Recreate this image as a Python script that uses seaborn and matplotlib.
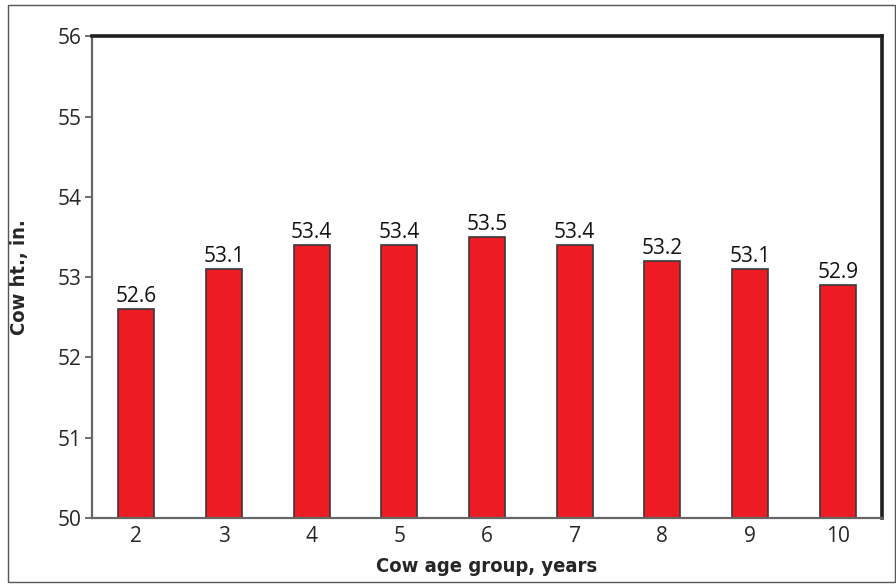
import matplotlib
matplotlib.use("Agg")
import matplotlib.pyplot as plt
import numpy as np
import pandas as pd
import seaborn as sns
from matplotlib.patches import Rectangle

age_groups = ["2", "3", "4", "5", "6", "7", "8", "9", "10"]
cow_height = [52.6, 53.1, 53.4, 53.4, 53.5, 53.4, 53.2, 53.1, 52.9]
y_ticks = [50, 51, 52, 53, 54, 55, 56]

df = pd.DataFrame({"age": age_groups, "height": cow_height})

sns.set_style("white")
plt.rcParams["font.family"] = ["Open Sans", "DejaVu Sans"]

fig = plt.figure(figsize=(8.96, 5.84), dpi=100)
ax = fig.add_axes([0.103, 0.113, 0.881, 0.825])

sns.barplot(data=df, x="age", y="height", color="#ED1C24", width=0.41,
            edgecolor="#3a3a3a", linewidth=1.2, saturation=1, ax=ax)
# bars start from the bottom of the cropped axis
for b in ax.patches:
    b.set_y(50)
    b.set_height(b.get_height() - 50 if b.get_height() > 50 else b.get_height())

ax.set_ylim(50, 56)
ax.set_xlim(-0.5, len(age_groups) - 0.5)
ax.set_yticks(y_ticks)
ax.set_yticklabels([str(t) for t in y_ticks], fontsize=15)
ax.set_xticks(range(len(age_groups)))
ax.set_xticklabels(age_groups, fontsize=15)
ax.set_xticks(np.arange(0.5, len(age_groups) - 0.5, 1), minor=True)
ax.tick_params(axis="x", which="major", length=0, pad=6)
ax.tick_params(axis="x", which="minor", length=5, width=1.2, color="#555555", direction="out")
ax.tick_params(axis="y", length=5, width=1.2, color="#555555", direction="out", left=True, pad=3)

for i, v in enumerate(cow_height):
    ax.text(i, v + 0.03, f"{v:.1f}", ha="center", va="bottom", fontsize=15, color="#111111")

for side in ["left", "bottom"]:
    ax.spines[side].set_color("#666666")
    ax.spines[side].set_linewidth(1.6)
for side in ["top", "right"]:
    ax.spines[side].set_color("#231f20")
    ax.spines[side].set_linewidth(2.6)

ax.set_xlabel("Cow age group, years", fontsize=14.5, fontweight="bold",
              family="DejaVu Sans", fontstretch="condensed", labelpad=7)
ax.set_ylabel("Cow ht., in.", fontsize=14.5, fontweight="bold",
              family="DejaVu Sans", fontstretch="condensed", labelpad=20)

fig.patches.append(Rectangle((0.009, 0.004), 0.99, 0.988, transform=fig.transFigure,
                             fill=False, edgecolor="#555555", linewidth=1.0))

fig.savefig("out.png", dpi=100)
